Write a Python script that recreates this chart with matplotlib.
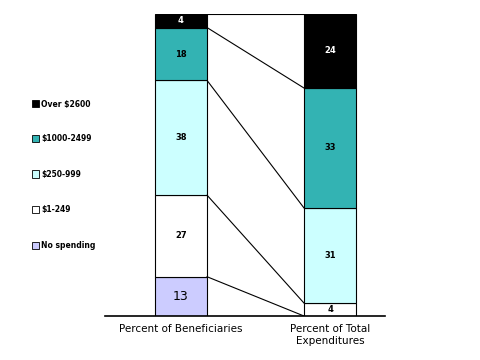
import matplotlib.pyplot as plt

# Segments, bottom to top
segments = ['No spending', '$1-249', '$250-999', '$1000-2499', 'Over $2600']
beneficiaries = [13, 27, 38, 17.5, 4.5]
expenditures = [0, 4.3, 31.5, 39.7, 24.5]
benef_labels = ['13', '27', '38', '18', '4']
expend_labels = ['', '4', '31', '33', '24']
colors = ['#ccccff', '#ffffff', '#ccffff', '#33b3b3', '#000000']
text_colors = ['black', 'black', 'black', 'black', 'white']
categories = ['Percent of Beneficiaries', 'Percent of Total\nExpenditures']

fig = plt.figure(figsize=(4.8, 3.6), dpi=100)
ax = fig.add_axes([105/480, 44/360, 280/480, 302/360])
ax.set_xlim(-0.51, 1.369)
ax.set_ylim(0, 100)
ax.axis('off')

width = 0.35
for i, vals in enumerate([beneficiaries, expenditures]):
    labels = [benef_labels, expend_labels][i]
    bottom = 0
    for j, v in enumerate(vals):
        if v > 0:
            ax.bar(i, v, width, bottom=bottom, color=colors[j],
                   edgecolor='black', linewidth=0.8)
            fs = 9 if (i == 0 and j == 0) else 6
            fw = 'normal' if (i == 0 and j == 0) else 'bold'
            ax.text(i, bottom + v / 2, labels[j], ha='center', va='center',
                    fontsize=fs, fontweight=fw, color=text_colors[j])
        bottom += v

# connecting lines between segment boundaries
cum_b = [sum(beneficiaries[:k]) for k in range(1, len(beneficiaries) + 1)]
cum_e = [sum(expenditures[:k]) for k in range(1, len(expenditures) + 1)]
for yb, ye in zip(cum_b, cum_e):
    ax.plot([width / 2, 1 - width / 2], [yb, ye], color='black', linewidth=0.8)

# baseline
ax.plot([-0.51, 1.369], [0, 0], color='black', linewidth=1.2, clip_on=False)

for i, c in enumerate(categories):
    ax.text(i, -2.5, c, ha='center', va='top', fontsize=7.5, linespacing=1.3)

# legend on the left
legend_y = [104, 139, 174, 209, 245]
for j in range(len(segments) - 1, -1, -1):
    y = 1 - legend_y[len(segments) - 1 - j] / 360
    fig.patches.append(plt.Rectangle((32/480, y - 3.5/360), 7/480, 7/360,
                                     transform=fig.transFigure,
                                     facecolor=colors[j], edgecolor='black',
                                     linewidth=0.6))
    fig.text(41/480, y, segments[j].replace('$', r'\$'), fontsize=5.5,
             fontweight='bold', va='center', ha='left')

fig.savefig('out.png', dpi=100)
